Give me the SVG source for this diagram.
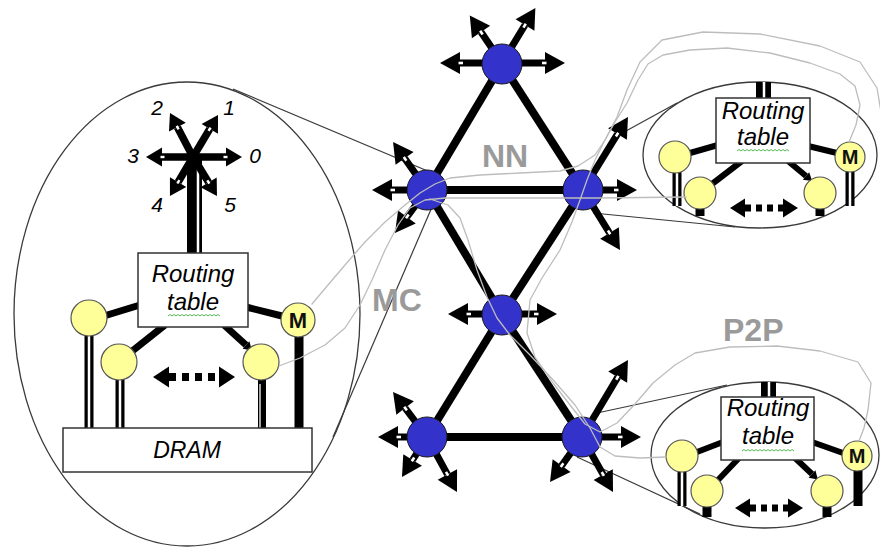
<svg xmlns="http://www.w3.org/2000/svg" width="880" height="548" viewBox="0 0 880 548">
<style>
.ell{fill:none;stroke:#3a3a3a;stroke-width:1.3}
.call{fill:none;stroke:#3a3a3a;stroke-width:1.2}
.gray{fill:none;stroke:#bdbdbd;stroke-width:1.3;stroke-linejoin:round;stroke-linecap:round}
.edge{stroke:#000;stroke-width:8;stroke-linecap:butt}
.arr{stroke:#000;stroke-width:7;marker-end:url(#ah)}
.sarr{stroke:#000;stroke-width:7.5;marker-end:url(#ah2)}
.node{fill:#3333cc;stroke:#1a1a1a;stroke-width:1}
.yel{fill:#ffff99;stroke:#555;stroke-width:1.2}
.box{fill:#fff;stroke:#333;stroke-width:1.5}
.link{stroke:#000;stroke-width:7}
.link2{stroke:#000;stroke-width:6}
.shaft{stroke:#000;stroke-width:9}
.core{stroke:#fff;stroke-width:2.5}
.it{font-family:"Liberation Sans",Arial,sans-serif;font-style:italic;fill:#000;text-anchor:middle}
.lbl{font-family:"Liberation Sans",Arial,sans-serif;font-weight:bold;font-size:32px;fill:#9a9a9a}
.m{font-family:"Liberation Sans",Arial,sans-serif;font-weight:bold;fill:#111;text-anchor:middle}
.sq{fill:none;stroke:#55bb55;stroke-width:1}
.dot{stroke:#000;stroke-width:8;stroke-dasharray:7 6;marker-start:url(#ahd);marker-end:url(#ahd)}
.dot2{stroke:#000;stroke-width:7;stroke-dasharray:6 5;marker-start:url(#ahd2);marker-end:url(#ahd2)}
</style>
<defs>
<marker id="ah" markerUnits="userSpaceOnUse" markerWidth="32" markerHeight="26" viewBox="-9 -13 32 26" refX="0" refY="0" orient="auto" overflow="visible">
<path d="M0,-11 L20,0 L0,11 z" fill="#000"/>
<rect x="-3" y="-1.3" width="4.5" height="2.6" fill="#fff"/>
</marker>
<marker id="ah2" markerUnits="userSpaceOnUse" markerWidth="26" markerHeight="22" viewBox="-7 -11 26 22" refX="0" refY="0" orient="auto" overflow="visible">
<path d="M0,-9.5 L16,0 L0,9.5 z" fill="#000"/>
<rect x="-2.5" y="-1.2" width="4" height="2.4" fill="#fff"/>
</marker>
<marker id="ah3" markerUnits="userSpaceOnUse" markerWidth="12" markerHeight="12" viewBox="-2 -6 12 12" refX="0" refY="0" orient="auto" overflow="visible">
<path d="M0,-5 L8,0 L0,5 z" fill="#000"/>
</marker>
<marker id="ahd" markerUnits="userSpaceOnUse" markerWidth="18" markerHeight="22" viewBox="0 -11 18 22" refX="0" refY="0" orient="auto-start-reverse" overflow="visible">
<path d="M0,-10.5 L16,0 L0,10.5 z" fill="#000"/>
</marker>
<marker id="ahd2" markerUnits="userSpaceOnUse" markerWidth="16" markerHeight="20" viewBox="0 -10 16 20" refX="0" refY="0" orient="auto-start-reverse" overflow="visible">
<path d="M0,-9.5 L15,0 L0,9.5 z" fill="#000"/>
</marker>
</defs>
<rect width="880" height="548" fill="#fff"/>

<!-- inset outlines and callout lines -->
<g id="callouts">
<ellipse class="ell" cx="187" cy="314" rx="173" ry="232"/>
<line class="call" x1="233" y1="89" x2="430" y2="172"/>
<line class="call" x1="333" y1="437" x2="432" y2="207"/>
<ellipse class="ell" cx="760" cy="155" rx="117" ry="73"/>
<line class="call" x1="615" y1="137" x2="677" y2="103"/>
<line class="call" x1="593" y1="213" x2="735" y2="227"/>
<ellipse class="ell" cx="765" cy="455" rx="114" ry="73"/>
<line class="call" x1="597" y1="413" x2="727" y2="385"/>
<line class="call" x1="577" y1="457" x2="700" y2="514"/>
</g>

<!-- left inset: router detail -->
<g id="inset-left">
<rect x="187" y="160" width="15" height="93" fill="#000"/>
<line class="core" x1="198" y1="166" x2="198" y2="253"/>
<line class="sarr" x1="193" y1="157" x2="226" y2="157"/>
<line class="sarr" x1="193" y1="157" x2="162" y2="157"/>
<line class="sarr" x1="193" y1="157" x2="209.8" y2="128.8"/>
<line class="sarr" x1="193" y1="157" x2="177.4" y2="127.2"/>
<line class="sarr" x1="193" y1="157" x2="178.1" y2="182.2"/>
<line class="sarr" x1="193" y1="157" x2="208.6" y2="182.4"/>
<text class="it" font-size="21" x="229" y="115">1</text>
<text class="it" font-size="21" x="157" y="115">2</text>
<text class="it" font-size="21" x="133" y="163">3</text>
<text class="it" font-size="21" x="255" y="163">0</text>
<text class="it" font-size="21" x="157" y="212">4</text>
<text class="it" font-size="21" x="230" y="212">5</text>
<line class="shaft" x1="89" y1="334" x2="89" y2="428"/>
<line class="core" x1="89" y1="334" x2="89" y2="428"/>
<line class="shaft" x1="120" y1="378" x2="120" y2="428"/>
<line class="core" x1="120" y1="378" x2="120" y2="428"/>
<line stroke="#000" stroke-width="8" x1="262" y1="378" x2="262" y2="428"/>
<line stroke="#fff" stroke-width="1.3" x1="260" y1="384" x2="260" y2="428"/>
<line class="shaft" x1="299" y1="336" x2="299" y2="428"/>
<line class="link" x1="140" y1="305" x2="104" y2="316"/>
<line class="link" x1="246" y1="307" x2="282" y2="316"/>
<line class="link" x1="165" y1="325" x2="131" y2="352"/>
<line class="link" x1="224" y1="325" x2="246" y2="345" style="marker-end:url(#ah3)"/>
<rect class="box" x="138" y="253" width="110" height="74"/>
<text class="it" font-size="24" x="193" y="282">Routing</text>
<text class="it" font-size="24" x="193" y="310">table</text>
<path class="sq" d="M168,316 l2,-1.5 l2,1.5 l2,-1.5 l2,1.5 l2,-1.5 l2,1.5 l2,-1.5 l2,1.5 l2,-1.5 l2,1.5 l2,-1.5 l2,1.5 l2,-1.5 l2,1.5 l2,-1.5 l2,1.5 l2,-1.5 l2,1.5 l2,-1.5 l2,1.5 l2,-1.5 l2,1.5 l2,-1.5 l2,1.5 l2,-1.5 l2,1.5"/>
<circle class="yel" cx="89" cy="318" r="18"/>
<circle class="yel" cx="119" cy="362" r="18"/>
<circle class="yel" cx="261" cy="362" r="18"/>
<circle class="yel" cx="298" cy="320" r="17"/>
<text class="m" font-size="22" x="298" y="328">M</text>
<line class="dot" x1="169" y1="377" x2="219" y2="377"/>
<rect class="box" x="63" y="428" width="249" height="44"/>
<text class="it" font-size="23" x="187" y="458">DRAM</text>
</g>

<!-- top-right inset -->
<g id="inset-nn">
<rect x="756" y="82" width="15" height="17" fill="#000"/>
<line class="core" x1="764" y1="82" x2="764" y2="98"/>
<line class="shaft" x1="677" y1="170" x2="677" y2="206"/>
<line class="core" x1="677" y1="170" x2="677" y2="206"/>
<line class="shaft" x1="850" y1="170" x2="850" y2="206"/>
<line class="core" x1="850" y1="170" x2="850" y2="206"/>
<line class="shaft" x1="700" y1="205" x2="700" y2="216"/>
<line class="shaft" x1="820" y1="205" x2="820" y2="216"/>
<line class="link2" x1="718" y1="145" x2="690" y2="153"/>
<line class="link2" x1="808" y1="146" x2="837" y2="153"/>
<line class="link2" x1="742" y1="161" x2="712" y2="184"/>
<line class="link2" x1="788" y1="161" x2="806" y2="176" style="marker-end:url(#ah3)"/>
<rect class="box" x="716" y="98" width="94" height="65"/>
<text class="it" font-size="24" x="763" y="119">Routing</text>
<text class="it" font-size="24" x="763" y="145">table</text>
<path class="sq" d="M737,151 l2,-1.5 l2,1.5 l2,-1.5 l2,1.5 l2,-1.5 l2,1.5 l2,-1.5 l2,1.5 l2,-1.5 l2,1.5 l2,-1.5 l2,1.5 l2,-1.5 l2,1.5 l2,-1.5 l2,1.5 l2,-1.5 l2,1.5 l2,-1.5 l2,1.5 l2,-1.5 l2,1.5 l2,-1.5 l2,1.5 l2,-1.5 l2,1.5"/>
<circle class="yel" cx="675" cy="157" r="16"/>
<circle class="yel" cx="700" cy="193" r="16"/>
<circle class="yel" cx="820" cy="193" r="16"/>
<circle class="yel" cx="850" cy="157" r="15"/>
<text class="m" font-size="20" x="850" y="164">M</text>
<line class="dot2" x1="745" y1="208" x2="783" y2="208"/>
</g>

<!-- bottom-right inset -->
<g id="inset-p2p">
<rect x="761" y="382" width="15" height="16" fill="#000"/>
<line class="core" x1="769" y1="382" x2="769" y2="397"/>
<line class="shaft" x1="682" y1="470" x2="682" y2="506"/>
<line class="core" x1="682" y1="470" x2="682" y2="506"/>
<line class="shaft" x1="858" y1="470" x2="858" y2="506"/>
<line class="shaft" x1="707" y1="504" x2="707" y2="517"/>
<line class="shaft" x1="827" y1="504" x2="827" y2="517"/>
<line class="link2" x1="723" y1="442" x2="697" y2="452"/>
<line class="link2" x1="812" y1="442" x2="843" y2="453"/>
<line class="link2" x1="739" y1="458" x2="718" y2="480"/>
<line class="link2" x1="795" y1="458" x2="812" y2="474" style="marker-end:url(#ah3)"/>
<rect class="box" x="721" y="397" width="93" height="63"/>
<text class="it" font-size="24" x="768" y="416">Routing</text>
<text class="it" font-size="24" x="768" y="444">table</text>
<path class="sq" d="M742,451 l2,-1.5 l2,1.5 l2,-1.5 l2,1.5 l2,-1.5 l2,1.5 l2,-1.5 l2,1.5 l2,-1.5 l2,1.5 l2,-1.5 l2,1.5 l2,-1.5 l2,1.5 l2,-1.5 l2,1.5 l2,-1.5 l2,1.5 l2,-1.5 l2,1.5 l2,-1.5 l2,1.5 l2,-1.5 l2,1.5 l2,-1.5 l2,1.5"/>
<circle class="yel" cx="682" cy="456" r="16"/>
<circle class="yel" cx="707" cy="491" r="16"/>
<circle class="yel" cx="827" cy="491" r="16"/>
<circle class="yel" cx="857" cy="456" r="15"/>
<text class="m" font-size="20" x="857" y="463">M</text>
<line class="dot2" x1="750" y1="508" x2="788" y2="508"/>
</g>

<!-- main network connectors -->
<g id="connectors">
<line class="edge" x1="502" y1="64" x2="427" y2="190"/>
<line class="edge" x1="502" y1="64" x2="583" y2="190"/>
<line class="edge" x1="427" y1="190" x2="583" y2="190"/>
<line class="edge" x1="427" y1="190" x2="502" y2="315"/>
<line class="edge" x1="502" y1="315" x2="582" y2="437"/>
<line class="edge" x1="583" y1="190" x2="502" y2="315"/>
<line class="edge" x1="502" y1="315" x2="427" y2="437"/>
<line class="edge" x1="427" y1="437" x2="582" y2="437"/>
</g>

<g id="node-top">
<line class="arr" x1="502" y1="63" x2="460" y2="63"/>
<line class="arr" x1="502" y1="63" x2="545" y2="63"/>
<line class="arr" x1="502" y1="63" x2="481" y2="32"/>
<line class="arr" x1="502" y1="63" x2="525" y2="25"/>
<circle class="node" cx="502" cy="64" r="20"/>
</g>
<g id="node-left">
<line class="arr" x1="427" y1="190" x2="392" y2="190"/>
<line class="arr" x1="427" y1="190" x2="404.6" y2="158.3"/>
<line class="arr" x1="427" y1="190" x2="406.9" y2="217"/>
<circle class="node" cx="427" cy="190" r="20"/>
</g>
<g id="node-right">
<line class="arr" x1="583" y1="190" x2="617" y2="190"/>
<line class="arr" x1="583" y1="190" x2="617.5" y2="134"/>
<line class="arr" x1="583" y1="190" x2="609.5" y2="233"/>
<circle class="node" cx="583" cy="190" r="20"/>
</g>
<g id="node-center">
<line class="arr" x1="502" y1="314" x2="468" y2="314"/>
<line class="arr" x1="502" y1="314" x2="537" y2="314"/>
<circle class="node" cx="502" cy="315" r="20"/>
</g>
<g id="node-bottom-left">
<line class="arr" x1="427" y1="437" x2="398" y2="437"/>
<line class="arr" x1="427" y1="437" x2="405.1" y2="408"/>
<line class="arr" x1="427" y1="437" x2="412.6" y2="460"/>
<line class="arr" x1="427" y1="437" x2="447.4" y2="474.4"/>
<circle class="node" cx="427" cy="437" r="20"/>
</g>
<g id="node-bottom-right">
<line class="arr" x1="582" y1="437" x2="621" y2="437"/>
<line class="arr" x1="582" y1="437" x2="617.7" y2="377.2"/>
<line class="arr" x1="582" y1="437" x2="561.6" y2="465.7"/>
<line class="arr" x1="582" y1="437" x2="603.2" y2="474.6"/>
<circle class="node" cx="582" cy="437" r="20"/>
</g>

<!-- gray traffic paths -->
<g id="paths">
<polyline class="gray" points="312,304 328,285 345,265 365,242 385,222 405,205 420,193 435,184 450,178 480,175 520,173 560,171 578,166 595,155 605,140 615,122 627,103 638,80 648,64 663,55 690,50 727,48 770,53 810,63 840,74 855,86 860,105 856,125 849,142"/>
<polyline class="gray" points="279,366 300,358 325,345 345,328 360,305 372,280 385,250 398,225 410,208 425,200 445,198 500,198 600,198 686,197"/>
<polyline class="gray" points="430,199 448,205 460,218 468,240 477,270 487,297 497,318 510,335 530,355 555,382 575,405 590,428 600,447 615,456 640,458 666,457"/>
<polyline class="gray" points="884,130 877,88 860,62 820,46 760,34 703,32 662,40 640,62 627,90 617,117 605,140 595,160 587,180 580,200 572,222 560,250 542,278 530,300 527,333 535,357 553,383 570,405 585,424 600,432 617,423 635,404 653,383 675,365 695,353 730,347 777,346 820,351 858,362 871,383 868,410 864,428 859,441"/>
</g>

<g id="labels">
<text class="lbl" x="482" y="167">NN</text>
<text class="lbl" x="372" y="311">MC</text>
<text class="lbl" x="723" y="341">P2P</text>
</g>
</svg>
